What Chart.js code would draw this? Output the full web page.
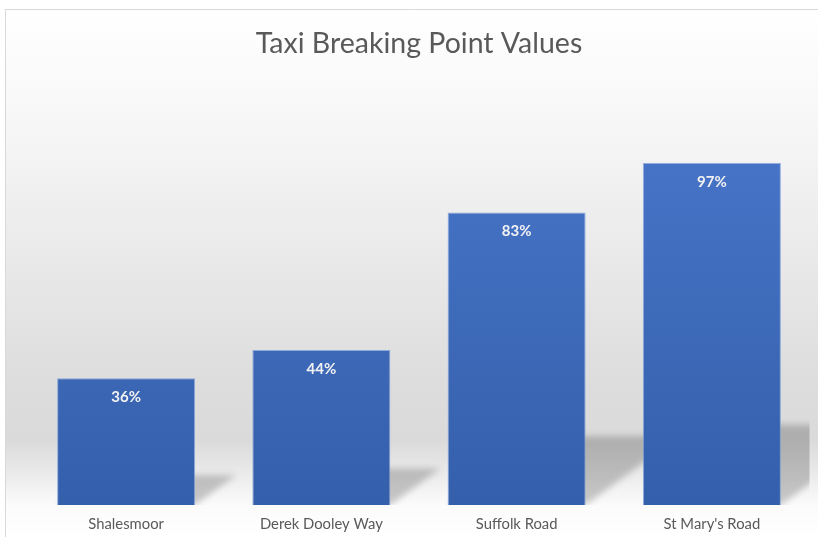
<!DOCTYPE html>
<html>
<head>
<meta charset="utf-8">
<script src="https://cdn.jsdelivr.net/npm/chart.js@4/dist/chart.umd.min.js"></script>
<style>
  html, body { margin: 0; padding: 0; background: #ffffff; }
  #wrap { width: 818px; height: 537px; position: relative; }
</style>
</head>
<body>
<div id="wrap"><canvas id="c" width="818" height="537"></canvas></div>
<script>
const categories = ['Shalesmoor', 'Derek Dooley Way', 'Suffolk Road', "St Mary's Road"];
const values = [0.36, 0.44, 0.83, 0.97];
const chartTitle = 'Taxi Breaking Point Values';

const backgroundPlugin = {
  id: 'bgFrame',
  beforeDraw(chart) {
    const ctx = chart.ctx;
    const H = chart.height, W = chart.width;
    const top = 9, left = 5;
    const g = ctx.createLinearGradient(0, top, 0, H);
    const s = (y) => (y - top) / (H - top);
    g.addColorStop(0, '#ffffff');
    g.addColorStop(s(120), '#f7f7f7');
    g.addColorStop(s(250), '#eaeaea');
    g.addColorStop(s(380), '#dddddd');
    g.addColorStop(s(440), '#dadada');
    g.addColorStop(s(475), '#ebebeb');
    g.addColorStop(s(505), '#fbfbfb');
    g.addColorStop(1, '#ffffff');
    ctx.save();
    ctx.fillStyle = '#ffffff';
    ctx.fillRect(0, 0, W, H);
    ctx.fillStyle = g;
    ctx.fillRect(left, top, W - left, H - top);
    ctx.strokeStyle = '#d9d9d9';
    ctx.lineWidth = 1;
    ctx.beginPath();
    ctx.moveTo(left + 0.5, H);
    ctx.lineTo(left + 0.5, top + 0.5);
    ctx.lineTo(W, top + 0.5);
    ctx.stroke();
    ctx.restore();
  }
};

const shadowPlugin = {
  id: 'barShadows',
  beforeDatasetsDraw(chart) {
    const ctx = chart.ctx;
    const area = chart.chartArea;
    const meta = chart.getDatasetMeta(0);
    ctx.save();
    ctx.beginPath();
    ctx.rect(area.left, 0, area.right - area.left, area.bottom);
    ctx.clip();
    ctx.filter = 'blur(3px)';
    ctx.fillStyle = 'rgba(0,0,0,0.2)';
    meta.data.forEach((bar) => {
      const half = bar.width / 2;
      const xl = bar.x - half, xr = bar.x + half;
      const base = bar.base;
      const h = base - bar.y;
      const dx = 0.32 * h, dy = 0.235 * h;
      ctx.beginPath();
      ctx.moveTo(xl, base);
      ctx.lineTo(xr, base);
      ctx.lineTo(xr + dx, base - dy);
      ctx.lineTo(xl + dx, base - dy);
      ctx.closePath();
      ctx.fill();
    });
    ctx.restore();
    meta.data.forEach((bar) => {
      const g = ctx.createLinearGradient(0, bar.y, 0, bar.base);
      g.addColorStop(0, '#4673c6');
      g.addColorStop(1, '#345fab');
      bar.options.backgroundColor = g;
    });
  },
  afterDatasetsDraw(chart) {
    const ctx = chart.ctx;
    const meta = chart.getDatasetMeta(0);
    ctx.save();
    ctx.font = 'bold 15px Lato';
    ctx.fillStyle = '#f2f2f2';
    ctx.textAlign = 'center';
    ctx.textBaseline = 'middle';
    meta.data.forEach((bar, i) => {
      ctx.fillText(Math.round(values[i] * 100) + '%', bar.x, bar.y + 19);
    });
    ctx.restore();
  }
};

new Chart(document.getElementById('c'), {
  type: 'bar',
  data: {
    labels: categories,
    datasets: [{
      data: values,
      backgroundColor: '#4472c4',
      borderColor: 'rgba(120,155,215,0.8)',
      borderWidth: 1,
      categoryPercentage: 1.0,
      barPercentage: 0.707
    }]
  },
  options: {
    responsive: false,
    animation: false,
    devicePixelRatio: 1,
    layout: { padding: { left: 28.5, right: 8.5, top: 26.9, bottom: -7 } },
    plugins: {
      legend: { display: false },
      tooltip: { enabled: false },
      title: {
        display: true,
        text: chartTitle,
        color: '#595959',
        font: { family: 'Lato', size: 28.5, weight: 'normal' },
        padding: { top: 0, bottom: 91.4 }
      }
    },
    scales: {
      x: {
        grid: { display: false, drawTicks: false, tickLength: 0 },
        border: { display: false },
        ticks: {
          color: '#595959',
          font: { family: 'Lato', size: 14.8 },
          padding: 10.6,
          maxRotation: 0
        }
      },
      y: {
        display: false,
        min: 0,
        max: 1
      }
    }
  },
  plugins: [backgroundPlugin, shadowPlugin]
});
</script>
</body>
</html>
